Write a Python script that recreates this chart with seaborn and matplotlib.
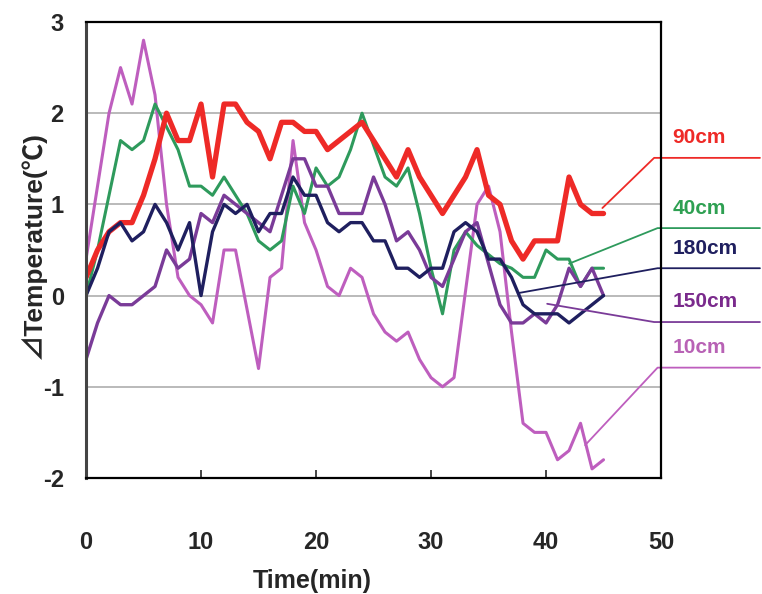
import numpy as np
import pandas as pd
import matplotlib
matplotlib.use("Agg")
import matplotlib.pyplot as plt
import seaborn as sns

# time axis (min)
time = list(range(0, 46))

t_90cm = [0.2, 0.5, 0.7, 0.8, 0.8, 1.1, 1.5, 2.0, 1.7, 1.7, 2.1, 1.3, 2.1, 2.1, 1.9, 1.8,
          1.5, 1.9, 1.9, 1.8, 1.8, 1.6, 1.7, 1.8, 1.9, 1.7, 1.5, 1.3, 1.6, 1.3, 1.1, 0.9,
          1.1, 1.3, 1.6, 1.1, 1.0, 0.6, 0.4, 0.6, 0.6, 0.6, 1.3, 1.0, 0.9, 0.9]
t_40cm = [0.0, 0.5, 1.1, 1.7, 1.6, 1.7, 2.1, 1.85, 1.6, 1.2, 1.2, 1.1, 1.3, 1.1, 0.9, 0.6,
          0.5, 0.6, 1.2, 0.9, 1.4, 1.2, 1.3, 1.6, 2.0, 1.65, 1.3, 1.2, 1.4, 0.9, 0.3, -0.2,
          0.5, 0.7, 0.55, 0.45, 0.35, 0.3, 0.2, 0.2, 0.5, 0.4, 0.4, 0.1, 0.3, 0.3]
t_180cm = [0.0, 0.3, 0.7, 0.8, 0.6, 0.7, 1.0, 0.8, 0.5, 0.8, 0.0, 0.7, 1.0, 0.9, 1.0, 0.7,
           0.9, 0.9, 1.3, 1.1, 1.1, 0.8, 0.7, 0.8, 0.8, 0.6, 0.6, 0.3, 0.3, 0.2, 0.3, 0.3,
           0.7, 0.8, 0.7, 0.4, 0.4, 0.2, -0.1, -0.2, -0.2, -0.2, -0.3, -0.2, -0.1, 0.0]
t_150cm = [-0.7, -0.3, 0.0, -0.1, -0.1, 0.0, 0.1, 0.5, 0.3, 0.4, 0.9, 0.8, 1.1, 1.0, 0.9, 0.8,
           0.7, 1.1, 1.5, 1.5, 1.2, 1.2, 0.9, 0.9, 0.9, 1.3, 1.0, 0.6, 0.7, 0.5, 0.2, 0.1,
           0.4, 0.7, 0.8, 0.35, -0.1, -0.3, -0.3, -0.2, -0.3, -0.1, 0.3, 0.1, 0.3, 0.0]
t_10cm = [0.4, 1.2, 2.0, 2.5, 2.1, 2.8, 2.2, 1.0, 0.2, 0.0, -0.1, -0.3, 0.5, 0.5, -0.15, -0.8,
          0.2, 0.3, 1.7, 0.8, 0.5, 0.1, 0.0, 0.3, 0.2, -0.2, -0.4, -0.5, -0.4, -0.7, -0.9, -1.0,
          -0.9, 0.05, 1.0, 1.2, 0.7, -0.4, -1.4, -1.5, -1.5, -1.8, -1.7, -1.4, -1.9, -1.8]

series_names = ["10cm", "40cm", "90cm", "150cm", "180cm"]
series_vals = [t_10cm, t_40cm, t_90cm, t_150cm, t_180cm]
colors = {"90cm": "#EE2A27", "40cm": "#2E9A5C", "180cm": "#1F1F5F",
          "150cm": "#7A3B98", "10cm": "#BE5EBE"}
widths = {"90cm": 3.8, "40cm": 2.2, "180cm": 2.4, "150cm": 2.4, "10cm": 2.2}
text_colors = {"90cm": "#EE2A27", "40cm": "#2EA052", "180cm": "#1F1F5F",
               "150cm": "#7A2A8C", "10cm": "#B862B5"}

# leader lines: (start x, start y, elbow x, elbow y), label y
leaders = {"90cm": (44.9, 0.96, 49.4, 1.51, 1.73),
           "40cm": (42.0, 0.35, 49.7, 0.74, 0.96),
           "180cm": (37.7, 0.03, 49.7, 0.30, 0.52),
           "150cm": (40.1, -0.09, 49.4, -0.29, -0.07),
           "10cm": (43.4, -1.64, 49.7, -0.79, -0.57)}

sns.set_style("white")
plt.rcParams["font.family"] = ["Liberation Sans", "Noto Sans CJK JP", "DejaVu Sans"]
plt.rcParams["axes.unicode_minus"] = False

fig = plt.figure(figsize=(7.62, 5.94), dpi=100)
ax = fig.add_axes([0.1129, 0.1953, 0.7546, 0.7677])

for name, vals in zip(series_names, series_vals):
    sns.lineplot(x=time, y=vals, ax=ax, color=colors[name], linewidth=widths[name])

ax.set_xlim(0, 50)
ax.set_ylim(-2, 3)
ax.set_xticks([0, 10, 20, 30, 40, 50])
ax.set_yticks([-2, -1, 0, 1, 2, 3])
for gy in [-1, 0, 1, 2]:
    ax.axhline(gy, color="#B4B4B4", linewidth=1.3, zorder=0)

for s in ax.spines.values():
    s.set_visible(True)
    s.set_color("black")
    s.set_linewidth(1.6)
ax.spines["left"].set_color("#444444")
ax.spines["left"].set_linewidth(2.2)

ax.tick_params(axis="x", direction="in", length=6, width=1.2, pad=38, labelsize=17, bottom=True)
ax.tick_params(axis="y", length=0, pad=16, labelsize=17)
for lab in ax.get_xticklabels() + ax.get_yticklabels():
    lab.set_fontweight("bold")

ax.set_xlabel("Time(min)", fontsize=18, fontweight="bold")
ax.xaxis.set_label_coords(0.393, -0.2)
ax.set_ylabel("⊿Temperature(℃)", fontsize=19, fontweight="bold")
ax.yaxis.set_label_coords(-0.07, 0.51)

for name in series_names:
    x0, y0, x1, y1, ly = leaders[name]
    ax.plot([x0, x1, 58.6], [y0, y1, y1], color=colors[name], linewidth=1.3, clip_on=False)
    ax.text(51.0, ly, name, color=text_colors[name], fontsize=15, fontweight="bold",
            ha="left", va="center", clip_on=False)

fig.savefig("out.png", dpi=100)
